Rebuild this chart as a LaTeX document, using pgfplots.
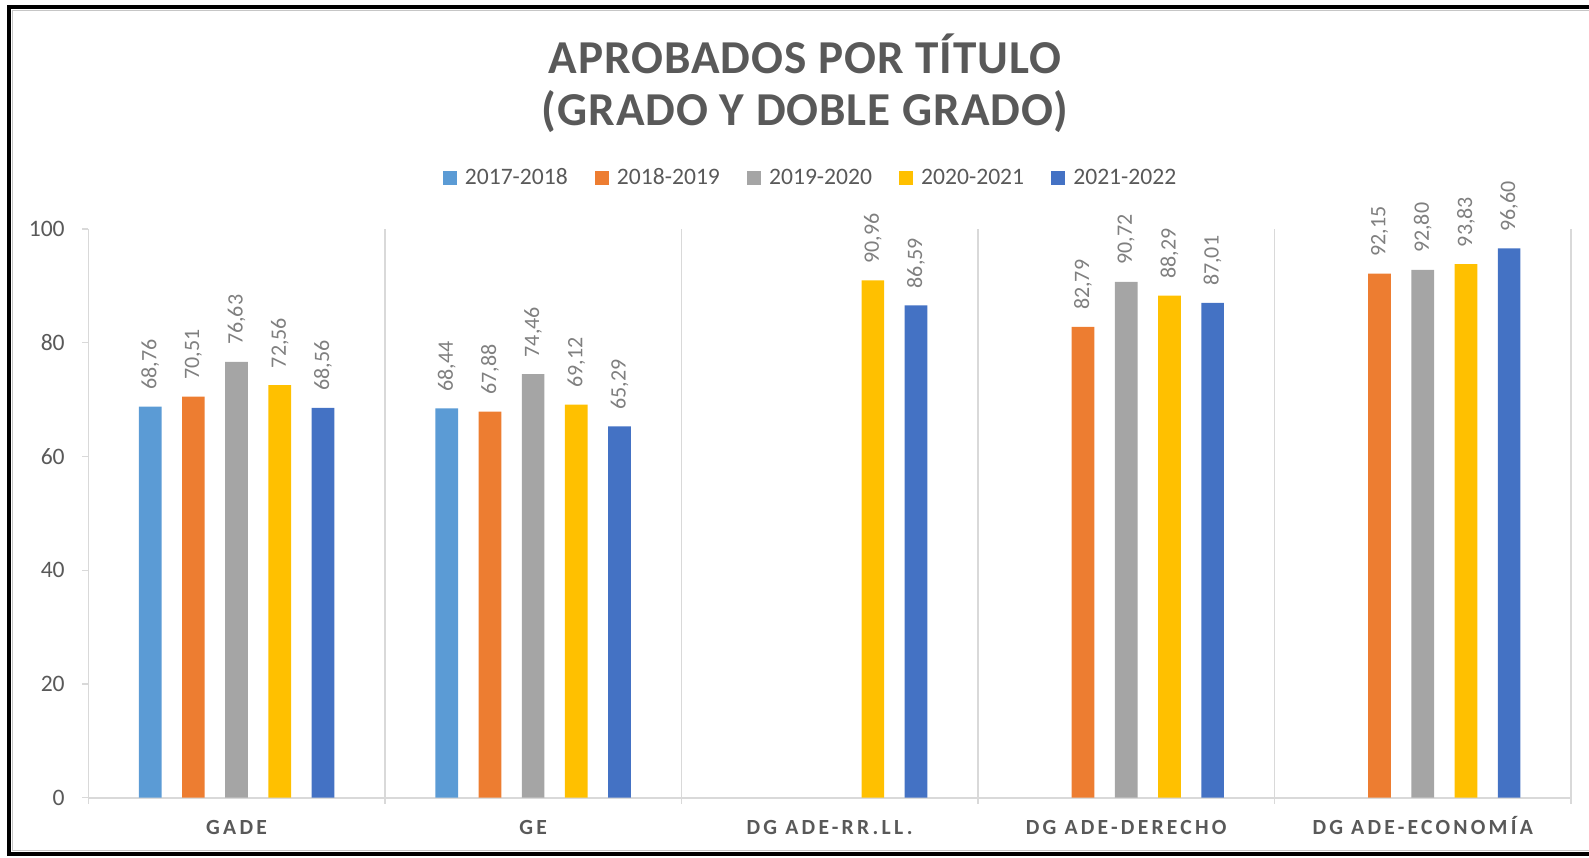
\documentclass[border=0pt]{standalone}
\usepackage{fontspec}
\setmainfont{Carlito}
\newfontfamily\titlefont[LetterSpace=2]{Carlito}
\newfontfamily\catfont[LetterSpace=15]{Carlito}
\usepackage{pgfplots}
\pgfplotsset{compat=1.18}
\definecolor{cA}{HTML}{5B9BD5}
\definecolor{cB}{HTML}{ED7D31}
\definecolor{cC}{HTML}{A5A5A5}
\definecolor{cD}{HTML}{FFC000}
\definecolor{cE}{HTML}{4472C4}
\definecolor{txt}{HTML}{595959}
\definecolor{lbl}{HTML}{7F7F7F}
\definecolor{gridc}{HTML}{D9D9D9}
\begin{document}
\begin{tikzpicture}
\useasboundingbox (0,0) rectangle (794.5pt,428.5pt);
\draw[line width=2pt,black] (4.4pt,1.65pt) rectangle (830pt,425pt);
\draw[line width=0.5pt,gray!45] (6pt,3.4pt) rectangle (830pt,423.4pt);
\node[text=txt,align=center,font=\titlefont\bfseries\fontsize{23.6}{25.8}\selectfont] at (402.5pt,387pt) {APROBADOS POR TÍTULO\\(GRADO Y DOBLE GRADO)};
\begin{axis}[
  at={(44.15pt,29.65pt)}, anchor=south west,
  scale only axis, width=741.35pt, height=284.35pt,
  xmin=0, xmax=5, ymin=0, ymax=100,
  axis lines*=left,
  axis line style={draw=gridc,line width=0.8pt},
  xtick={0.5,1.5,2.5,3.5,4.5},
  xticklabels={GADE,GE,DG ADE-RR.LL.,DG ADE-DERECHO,DG ADE-ECONOMÍA},
  minor xtick={0,1,2,3,4,5},
  xminorgrids=true,
  minor grid style={draw=gridc,line width=0.7pt},
  major x tick style={draw=none},
  minor x tick style={draw=gridc,line width=0.7pt},
  ytick={0,20,...,100},
  y tick style={draw=gridc,line width=0.7pt},
  tick align=outside,
  major tick length=3pt, minor tick length=3pt,
  /pgf/number format/assume math mode=true,
  yticklabel style={font=\fontsize{11.8}{14}\selectfont,text=txt,inner xsep=0pt,xshift=-8.6pt},
  xticklabel style={font=\catfont\bfseries\fontsize{10.8}{12}\selectfont,text=txt,inner sep=0pt,anchor=base,yshift=-15.3pt},
  ybar=10.25pt, bar width=11.35pt,
  nodes near coords={\pgfmathprintnumber[fixed,fixed zerofill,precision=2,use comma,assume math mode=true]{\pgfplotspointmeta}},
  every node near coord/.append style={rotate=90,anchor=west,font=\fontsize{11}{13}\selectfont,text=lbl,inner xsep=8.3pt,inner ysep=0pt},
  legend columns=5,
  legend style={at={(0.4874,1.089)},anchor=center,draw=none,fill=none,
    font=\fontsize{11.8}{14}\selectfont,text=txt,
    /tikz/every odd column/.append style={column sep=2.5pt},
    /tikz/every even column/.append style={column sep=12pt},
    nodes={inner xsep=1.5pt,inner ysep=0pt}},
  legend image code/.code={\fill[#1] (0pt,-3.55pt) rectangle (7.1pt,3.55pt);},
]
\addplot[draw=none,fill=cA] coordinates {(0.5,68.76) (1.5,68.44)};
\addplot[draw=none,fill=cB] coordinates {(0.5,70.51) (1.5,67.88) (3.5,82.79) (4.5,92.15)};
\addplot[draw=none,fill=cC] coordinates {(0.5,76.63) (1.5,74.46) (3.5,90.72) (4.5,92.80)};
\addplot[draw=none,fill=cD] coordinates {(0.5,72.56) (1.5,69.12) (2.5,90.96) (3.5,88.29) (4.5,93.83)};
\addplot[draw=none,fill=cE] coordinates {(0.5,68.56) (1.5,65.29) (2.5,86.59) (3.5,87.01) (4.5,96.60)};
\legend{2017-2018,2018-2019,2019-2020,2020-2021,2021-2022}
\end{axis}
\end{tikzpicture}
\end{document}
